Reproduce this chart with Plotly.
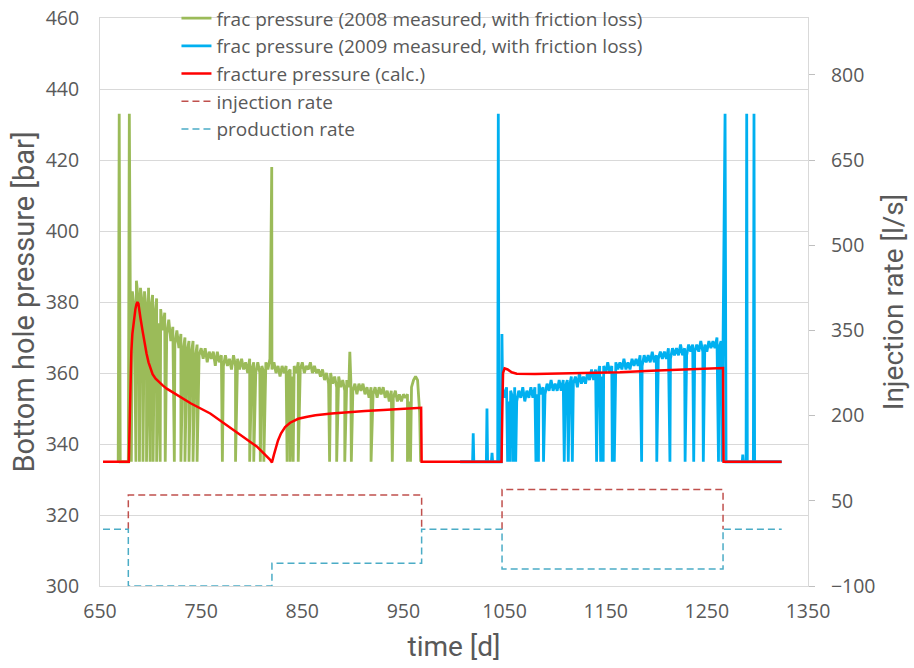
import plotly.graph_objects as go

# ---------------- data ----------------
# 2008 measured bottom hole pressure [bar] (noisy band while injecting)
green_days = [680, 682, 684, 686, 688, 690, 692, 694, 696, 698,
              700, 702, 704, 706, 708, 710, 712, 714, 716, 718,
              720, 722, 724, 726, 728, 730, 732, 734, 736, 738,
              740, 742, 744, 746, 748, 750, 752, 754, 756, 758,
              760, 762, 764, 766, 768, 770, 772, 774, 776, 778,
              780, 782, 784, 786, 788, 790, 792, 794, 796, 798,
              800, 802, 804, 806, 808, 810, 812, 814, 816, 818,
              820, 822, 824, 826, 828, 830, 832, 834, 836, 838,
              840, 842, 844, 846, 848, 850, 852, 854, 856, 858,
              860, 862, 864, 866, 868, 870, 872, 874, 876, 878,
              880, 882, 884, 886, 888, 890, 892, 894, 896, 898,
              900, 902, 904, 906, 908, 910, 912, 914, 916, 918,
              920, 922, 924, 926, 928, 930, 932, 934, 936, 938,
              940, 942, 944, 946, 948, 950, 952, 954, 956, 958,
              960, 962, 964, 966]
green_bar = [379, 383, 378, 386, 380, 384, 379, 383, 377, 384,
             378, 382, 376, 381, 374, 378, 372, 377, 371, 375,
             369, 373, 368, 372, 367, 371, 366, 370, 366, 369,
             365, 369, 364, 368, 365, 367, 364, 367, 363, 366,
             364, 366, 362, 366, 363, 365, 362, 365, 362, 364,
             361, 365, 362, 364, 361, 364, 361, 363, 360, 364,
             361, 363, 360, 363, 360, 362, 360, 363, 361, 364,
             361, 363, 360, 362, 359, 362, 360, 362, 360, 361,
             359, 362, 360, 363, 361, 363, 360, 362, 361, 363,
             360, 362, 360, 361, 359, 361, 358, 360, 357, 360,
             357, 359, 356, 359, 356, 358, 355, 358, 356, 358,
             355, 357, 354, 357, 355, 357, 354, 356, 353, 356,
             354, 356, 353, 356, 354, 356, 353, 355, 352, 355,
             353, 355, 352, 354, 352, 354, 353, 354, 352, 356,
             358, 359, 358, 349]
# short shut-ins where the pressure falls back to the baseline
green_drop_days = [681, 685.5, 689, 692.5, 696, 699.5, 702.5, 706, 709.5, 714.5,
                   723.5, 730, 734, 738, 742, 746, 771, 784, 798, 802,
                   808.5, 812, 835, 838, 841, 846, 877, 884, 892, 898.5,
                   918, 939, 954, 957, 967]
# isolated peaks
green_peak_days = [669, 679, 819.8, 897]
green_peak_bar = [433, 433, 418, 366]
green_base_days = [668, 670, 678]

# 2009 measured bottom hole pressure [bar]
blue_days = [1048, 1050, 1052, 1054, 1056, 1058, 1060, 1062, 1064, 1066,
             1068, 1070, 1072, 1074, 1076, 1078, 1080, 1082, 1084, 1086,
             1088, 1090, 1092, 1094, 1096, 1098, 1100, 1102, 1104, 1106,
             1108, 1110, 1112, 1114, 1116, 1118, 1120, 1122, 1124, 1126,
             1128, 1130, 1132, 1134, 1136, 1138, 1140, 1142, 1144, 1146,
             1148, 1150, 1152, 1154, 1156, 1158, 1160, 1162, 1164, 1166,
             1168, 1170, 1172, 1174, 1176, 1178, 1180, 1182, 1184, 1186,
             1188, 1190, 1192, 1194, 1196, 1198, 1200, 1202, 1204, 1206,
             1208, 1210, 1212, 1214, 1216, 1218, 1220, 1222, 1224, 1226,
             1228, 1230, 1232, 1234, 1236, 1238, 1240, 1242, 1244, 1246,
             1248, 1250, 1252, 1254, 1256, 1258, 1260, 1262, 1264, 1266]
blue_bar = [356, 353, 356, 352, 355, 353, 356, 352, 355, 353,
            356, 352, 355, 353, 356, 353, 356, 354, 357, 354,
            356, 354, 357, 355, 358, 355, 357, 355, 358, 355,
            358, 356, 358, 356, 359, 357, 359, 356, 360, 357,
            359, 357, 360, 358, 361, 358, 361, 359, 362, 359,
            362, 360, 363, 360, 362, 360, 363, 361, 363, 361,
            364, 361, 363, 361, 364, 362, 364, 362, 365, 362,
            365, 363, 365, 363, 366, 363, 365, 364, 366, 364,
            366, 364, 367, 364, 367, 365, 367, 365, 368, 365,
            367, 365, 368, 366, 368, 366, 368, 366, 369, 366,
            368, 366, 369, 367, 369, 367, 370, 367, 369, 368]
blue_drop_days = [1053, 1055.5, 1058.5, 1061, 1081, 1083.5, 1088.5, 1109, 1113, 1117,
                  1141, 1145, 1147.5, 1156.5, 1158.5, 1185.5, 1200.5, 1213.5, 1228.5, 1237,
                  1246.5, 1261.5, 1265]
blue_peak_days = [1019, 1032.6, 1037.6, 1043.8, 1047.4, 1268, 1285.5, 1289.4, 1296.6]
blue_peak_bar = [343, 350, 337.5, 433, 371, 433, 337, 433, 433]
blue_base_days = [1006, 1018.4, 1019.6, 1032, 1033.2, 1037, 1038.2, 1043.2, 1044.4,
                  1046.8, 1269, 1285, 1286, 1288.8, 1290, 1296, 1297.2, 1324]

# calculated fracture pressure [bar]
red_days = [653, 678.5, 679.5, 680, 681, 682, 683, 684, 685, 686,
            687, 688, 689, 690, 692, 694, 696, 698, 700, 702,
            705, 708, 712, 716, 726, 740, 759, 775, 792, 805,
            818, 820, 822, 824, 826, 829, 833, 838, 846, 855,
            863, 879, 895, 912, 930, 945, 967.5, 968, 1047, 1047.8,
            1048.5, 1050, 1053, 1057, 1062, 1080, 1101, 1134, 1164, 1195,
            1225, 1266, 1266.5, 1324]
red_bar = [335, 335, 348, 356, 366, 371, 374, 376, 378, 379.3,
           380, 379.5, 378, 375.5, 372, 368.5, 365.5, 363, 361, 359.7,
           358.4, 357.5, 356.5, 355.6, 353.8, 351.4, 348.6, 345.4, 342, 339.3,
           335.6, 334.8, 337, 339, 341, 343, 344.8, 346, 347.1, 347.7,
           348.1, 348.6, 349, 349.3, 349.6, 349.9, 350.2, 335, 335, 350,
           360, 361.3, 361, 360.2, 359.8, 359.7, 359.8, 360, 360.2, 360.6,
           361, 361.4, 335, 335]

# rates [l/s]
inj_days = [678, 678, 968, 968, None, 1047.5, 1047.5, 1266, 1266]
inj_rate = [0, 60, 60, 0, None, 0, 70, 70, 0]
prod_days = [653, 678, 678, 820, 820, 968, 968, 1047.5, 1047.5, 1266, 1266, 1324]
prod_rate = [0, 0, -100, -100, -60, -60, 0, 0, -70, -70, 0, 0]

x_ticks = [650, 750, 850, 950, 1050, 1150, 1250, 1350]
y_ticks = [300, 320, 340, 360, 380, 400, 420, 440, 460]
y2_ticks = [-100, 50, 200, 350, 500, 650, 800]

BASE = 335


def merged(days, vals, drops, peak_days, peak_vals, base_days):
    pts = list(zip(days, vals))
    pts += [(d, BASE) for d in drops]
    pts += list(zip(peak_days, peak_vals))
    pts += [(d, BASE) for d in base_days]
    pts.sort(key=lambda p: p[0])
    return [p[0] for p in pts], [p[1] for p in pts]


gx, gy = merged(green_days, green_bar, green_drop_days,
                green_peak_days, green_peak_bar, green_base_days)
bx, by = merged(blue_days, blue_bar, blue_drop_days,
                blue_peak_days, blue_peak_bar, blue_base_days)

GREY = "#595959"
GRID = "#D9D9D9"
TXT = "Open Sans"
TITLE = "Roboto"

fig = go.Figure()
fig.add_trace(go.Scatter(x=gx, y=gy, mode="lines", legendgroup="g1",
                         name="frac pressure (2008 measured, with friction loss)",
                         line=dict(color="#9BBB59", width=2.8, simplify=False)))
fig.add_trace(go.Scatter(x=bx, y=by, mode="lines", legendgroup="g2",
                         name="frac pressure (2009 measured, with friction loss)",
                         line=dict(color="#00B0F0", width=2.8, simplify=False)))
fig.add_trace(go.Scatter(x=red_days, y=red_bar, mode="lines", legendgroup="g3",
                         name="fracture pressure (calc.)",
                         line=dict(color="#FF0000", width=2.5)))
fig.add_trace(go.Scatter(x=inj_days, y=inj_rate, mode="lines", yaxis="y2",
                         legendgroup="g4", name="injection rate",
                         line=dict(color="#C0504D", width=1.5, dash="7px,4px")))
fig.add_trace(go.Scatter(x=prod_days, y=prod_rate, mode="lines", yaxis="y2",
                         legendgroup="g5", name="production rate",
                         line=dict(color="#4BACC6", width=1.5, dash="7px,4px")))

fig.update_layout(
    width=914, height=668,
    margin=dict(l=100, r=106, t=18, b=82, autoexpand=False),
    paper_bgcolor="white", plot_bgcolor="white",
    font=dict(family=TXT, color=GREY, size=17),
    showlegend=True,
    legend=dict(x=0.108, y=1.033, xanchor="left", yanchor="top",
                bgcolor="rgba(0,0,0,0)", font=dict(family=TXT, size=19, color=GREY),
                tracegroupgap=0),
    xaxis=dict(range=[650, 1350], tickvals=x_ticks, showgrid=False, zeroline=False,
               showline=True, linecolor=GRID, linewidth=1, mirror=True,
               ticks="", ticklabelstandoff=8,
               tickfont=dict(family=TXT, size=19.5, color=GREY),
               title=dict(text="time [d]", standoff=12,
                          font=dict(family=TITLE, size=28, color=GREY))),
    yaxis=dict(range=[300, 460], tickvals=y_ticks, showgrid=True, gridcolor=GRID,
               gridwidth=1, zeroline=False, showline=True, linecolor=GRID,
               linewidth=1, mirror=True, ticks="", ticklabelstandoff=16,
               tickfont=dict(family=TXT, size=19.5, color=GREY),
               title=dict(text="Bottom hole pressure [bar]", standoff=2,
                          font=dict(family=TITLE, size=29, color=GREY))),
    yaxis2=dict(range=[-100, 900], tickvals=y2_ticks, overlaying="y", side="right",
                showgrid=False, zeroline=False, showline=False,
                ticks="outside", ticklen=6, tickcolor="#BFBFBF", ticklabelstandoff=12,
                tickfont=dict(family=TXT, size=19.5, color=GREY),
                title=dict(text="Injection rate [l/s]", standoff=8,
                           font=dict(family=TITLE, size=28, color=GREY))),
)

fig.write_html("out.html")
